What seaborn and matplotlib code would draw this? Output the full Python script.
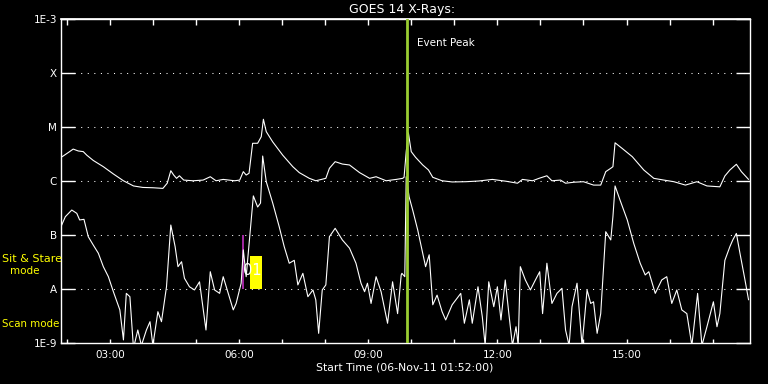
import matplotlib
matplotlib.use("Agg")
import matplotlib.pyplot as plt
from matplotlib.ticker import NullLocator
import numpy as np
import pandas as pd
import seaborn as sns

# ---------------- data ----------------
START_MIN = 112          # 01:52 start time (minutes of day)
SPAN_MIN = 960           # 16 hour window

# long channel (1-8 A), minutes since start / flux W m^-2
long_min = [0, 3, 12, 17, 24, 31, 36, 45, 59, 73, 87, 101, 114, 128, 142, 148, 153, 157,
            161, 165, 171, 184, 198, 208, 216, 226, 242, 249, 254, 258, 262, 267, 274, 279,
            282, 286, 295, 309, 323, 332, 346, 355, 369, 374, 382, 392, 402, 416, 430, 439,
            453, 467, 476, 478, 481, 484, 488, 494, 504, 512, 518, 531, 545, 564, 582, 601,
            620, 636, 643, 657, 666, 677, 684, 696, 703, 715, 728, 742, 752, 759, 766, 769,
            772, 782, 796, 812, 826, 840, 854, 870, 886, 900, 918, 925, 932, 941, 948, 958]
long_flux = [2.75e-6, 2.9e-6, 3.5e-6, 3.9e-6, 3.6e-6, 3.5e-6, 3.0e-6, 2.4e-6, 1.84e-6, 1.35e-6,
             1.01e-6, 8.1e-7, 7.6e-7, 7.5e-7, 7.3e-7, 9.1e-7, 1.55e-6, 1.29e-6, 1.12e-6, 1.25e-6,
             1.04e-6, 1.01e-6, 1.04e-6, 1.20e-6, 1.01e-6, 1.07e-6, 1.01e-6, 1.04e-6, 1.49e-6,
             1.29e-6, 1.39e-6, 4.99e-6, 5.0e-6, 6.6e-6, 1.39e-5, 8.2e-6, 5.3e-6, 3.0e-6, 1.84e-6,
             1.43e-6, 1.12e-6, 1.01e-6, 1.12e-6, 1.72e-6, 2.28e-6, 2.06e-6, 1.98e-6, 1.43e-6,
             1.12e-6, 1.20e-6, 1.01e-6, 1.07e-6, 1.12e-6, 1.17e-6, 3.5e-6, 7.8e-6, 3.5e-6,
             2.75e-6, 1.98e-6, 1.60e-6, 1.17e-6, 1.01e-6, 9.6e-7, 9.7e-7, 1.0e-6, 1.07e-6,
             9.9e-7, 9.1e-7, 1.07e-6, 1.01e-6, 1.12e-6, 1.25e-6, 1.01e-6, 1.04e-6, 9.1e-7,
             9.5e-7, 9.7e-7, 8.4e-7, 8.4e-7, 1.49e-6, 1.72e-6, 1.84e-6, 5.1e-6, 4.0e-6, 2.82e-6,
             1.60e-6, 1.12e-6, 1.04e-6, 9.7e-7, 8.4e-7, 9.7e-7, 8.1e-7, 7.8e-7, 1.24e-6,
             1.60e-6, 2.04e-6, 1.49e-6, 1.07e-6]

# short channel (0.5-4 A)
short_min = [0, 6, 15, 22, 26, 32, 38, 45, 52, 59, 66, 73, 77, 82, 87, 91, 96, 101, 107, 112,
             119, 124, 128, 135, 140, 147, 153, 159, 163, 168, 172, 179, 186, 193, 202, 208,
             214, 221, 226, 233, 240, 244, 251, 254, 258, 263, 268, 274, 278, 281, 286, 295,
             304, 311, 318, 325, 330, 337, 344, 351, 355, 359, 364, 369, 374, 382, 392, 402,
             411, 418, 423, 427, 432, 439, 446, 455, 462, 469, 474, 475, 479, 481, 485, 490,
             497, 504, 508, 513, 518, 524, 531, 536, 545, 557, 562, 569, 573, 581, 587, 591,
             596, 603, 608, 613, 619, 624, 629, 634, 637, 640, 647, 654, 661, 667, 671, 677,
             684, 691, 698, 703, 708, 712, 719, 726, 733, 738, 742, 747, 752, 759, 766, 769,
             772, 779, 789, 798, 807, 814, 819, 828, 837, 844, 851, 858, 865, 872, 879, 887,
             893, 900, 909, 914, 918, 925, 932, 936, 941, 946, 953, 958]
short_flux = [1.43e-7, 2.18e-7, 2.90e-7, 2.52e-7, 1.90e-7, 1.95e-7, 9.3e-8, 6.5e-8, 4.6e-8,
              2.59e-8, 1.69e-8, 8.9e-9, 6.3e-9, 4.1e-9, 1.14e-9, 8.3e-9, 7.2e-9, 8e-10, 1.74e-9,
              9e-10, 1.74e-9, 2.48e-9, 9e-10, 3.8e-9, 2.48e-9, 1.10e-8, 1.53e-7, 6.1e-8, 2.59e-8,
              3.2e-8, 1.58e-8, 1.10e-8, 9.6e-9, 1.36e-8, 1.74e-9, 2.09e-8, 9.6e-9, 8.3e-9,
              1.69e-8, 8.3e-9, 4.1e-9, 5.4e-9, 1.28e-8, 5.3e-8, 1.69e-8, 9.3e-8, 5.3e-7, 3.3e-7,
              3.9e-7, 2.9e-6, 9.7e-7, 3.9e-7, 1.43e-7, 6.1e-8, 3.0e-8, 3.4e-8, 1.19e-8, 1.95e-8,
              7.2e-9, 9.6e-9, 6.3e-9, 1.51e-9, 9.6e-9, 1.19e-8, 9.3e-8, 1.33e-7, 8.1e-8, 5.7e-8,
              3.0e-8, 1.28e-8, 8.9e-9, 1.28e-8, 5.4e-9, 1.69e-8, 8.9e-9, 2.32e-9, 1.36e-8,
              3.5e-9, 1.82e-8, 1.95e-8, 1.69e-8, 1.20e-6, 5.1e-7, 2.90e-7, 1.24e-7, 4.6e-8,
              2.59e-8, 4.3e-8, 5.1e-9, 7.7e-9, 3.8e-9, 2.67e-9, 5.1e-9, 8.3e-9, 2.32e-9, 6.3e-9,
              2.32e-9, 1.10e-8, 3.07e-9, 9e-10, 1.36e-8, 4.7e-9, 1.10e-8, 2.67e-9, 1.47e-8,
              3.5e-9, 9e-10, 2.0e-9, 9e-10, 2.59e-8, 1.47e-8, 9.6e-9, 1.47e-8, 2.09e-8, 3.5e-9,
              3.0e-8, 5.4e-9, 8.3e-9, 1.03e-8, 1.74e-9, 9e-10, 4.7e-9, 1.28e-8, 9e-10, 9.6e-9,
              5.4e-9, 5.8e-9, 1.51e-9, 3.5e-9, 1.15e-7, 8.1e-8, 2.18e-7, 8.1e-7, 4.4e-7, 1.90e-7,
              7.0e-8, 3.0e-8, 1.82e-8, 2.09e-8, 8.3e-9, 1.47e-8, 1.69e-8, 5.4e-9, 9.6e-9, 4.1e-9,
              3.5e-9, 9e-10, 8.3e-9, 9e-10, 2.0e-9, 5.8e-9, 2.0e-9, 3.5e-9, 3.4e-8, 6.1e-8,
              8.1e-8, 1.07e-7, 4.6e-8, 1.47e-8, 6.3e-9]

class_levels = [1e-9, 1e-8, 1e-7, 1e-6, 1e-5, 1e-4, 1e-3]
class_labels = ["1E-9", "A", "B", "C", "M", "X", "1E-3"]
grid_levels = [1e-8, 1e-7, 1e-6, 1e-5, 1e-4]
hour_ticks = list(range(2, 18))
label_hours = [3, 6, 9, 12, 15]

event_peak_min = 482
sit_stare_min = [263, 280]
sit_stare_lo, sit_stare_hi = 1e-8, 4.1e-8
marker_min = 253
marker_lo, marker_hi = 1e-8, 1e-7

# ---------------- frame ----------------
def to_hour(m):
    return (START_MIN + np.asarray(m, dtype=float)) / 60.0

df = pd.concat([
    pd.DataFrame({"hour": to_hour(long_min), "flux": long_flux, "channel": "long"}),
    pd.DataFrame({"hour": to_hour(short_min), "flux": short_flux, "channel": "short"}),
], ignore_index=True)

sns.set_theme(style="dark")
plt.rcParams["font.family"] = ["DejaVu Sans"]

W, H = 768, 384
fig = plt.figure(figsize=(W / 100, H / 100), dpi=100, facecolor="black")
ax = fig.add_axes([61 / W, 41 / H, 689 / W, 324 / H])
ax.set_facecolor("black")

ax.set_yscale("log")
ax.set_ylim(1e-9, 1e-3)
ax.set_xlim(to_hour(0), to_hour(SPAN_MIN))

for lv in grid_levels:
    ax.axhline(lv, color="white", lw=0.75, ls=(0, (1, 5.3)), zorder=1)

sns.lineplot(data=df, x="hour", y="flux", units="channel", estimator=None, sort=False,
             color="white", lw=0.8, ax=ax, zorder=3, legend=False)

# sit & stare marker
ax.fill_between(to_hour(sit_stare_min), sit_stare_lo, sit_stare_hi, color="#ffff00",
                lw=0, zorder=2)
ax.vlines(to_hour(marker_min), marker_lo, marker_hi, color="#c030c0", lw=1.2, zorder=2)
ax.annotate("01", xy=(to_hour(marker_min), sit_stare_lo), xytext=(0, 8),
            textcoords="offset points", color="white", fontsize=10.5, ha="left",
            va="bottom", zorder=4)

# event peak
ax.axvline(to_hour(event_peak_min), color="#9acd32", lw=2, zorder=4)
ax.annotate("Event Peak", xy=(to_hour(event_peak_min), 1e-3), xytext=(7.5, -17),
            textcoords="offset points", color="white", fontsize=7.5, ha="left",
            va="center")

for s in ax.spines.values():
    s.set_color("white")
    s.set_linewidth(1)
    s.set_visible(True)

ax.set_yticks(class_levels, class_labels)
ax.yaxis.set_minor_locator(NullLocator())
ax.tick_params(axis="y", which="major", direction="in", length=10, width=1,
               color="white", labelcolor="white", labelsize=7.5, left=True,
               right=True, pad=3)

ax.set_xticks(to_hour([h * 60 - START_MIN for h in hour_ticks]),
              [f"{h:02d}:00" if h in label_hours else "" for h in hour_ticks])
ax.xaxis.set_minor_locator(NullLocator())
ax.tick_params(axis="x", which="major", direction="in", length=3, width=1,
               color="white", labelcolor="white", labelsize=7.5, bottom=True,
               top=False, pad=5)

sec = ax.secondary_xaxis("top")
sec.set_xticks(to_hour([h * 60 - START_MIN for h in hour_ticks]))
sec.tick_params(direction="in", length=4.5, width=1, color="white", labeltop=False)
sec.spines["top"].set_color("white")

ax.set_xlabel("")
ax.set_ylabel("")
ax.grid(False)

fig.text(402 / W, 1 - 9 / H, "GOES 14 X-Rays:", ha="center", va="center",
         color="white", fontsize=9)
fig.text(405 / W, 1 - 368 / H, "Start Time (06-Nov-11 01:52:00)", ha="center",
         va="center", color="white", fontsize=7.8)

fig.text(2 / W, 1 - 259 / H, "Sit & Stare", ha="left", va="center",
         color="#ffff00", fontsize=8)
fig.text(24.5 / W, 1 - 271 / H, "mode", ha="center", va="center",
         color="#ffff00", fontsize=7.5)
fig.text(2 / W, 1 - 324 / H, "Scan mode", ha="left", va="center",
         color="#ffff00", fontsize=7.4)

fig.savefig("out.png", dpi=100, facecolor="black")
